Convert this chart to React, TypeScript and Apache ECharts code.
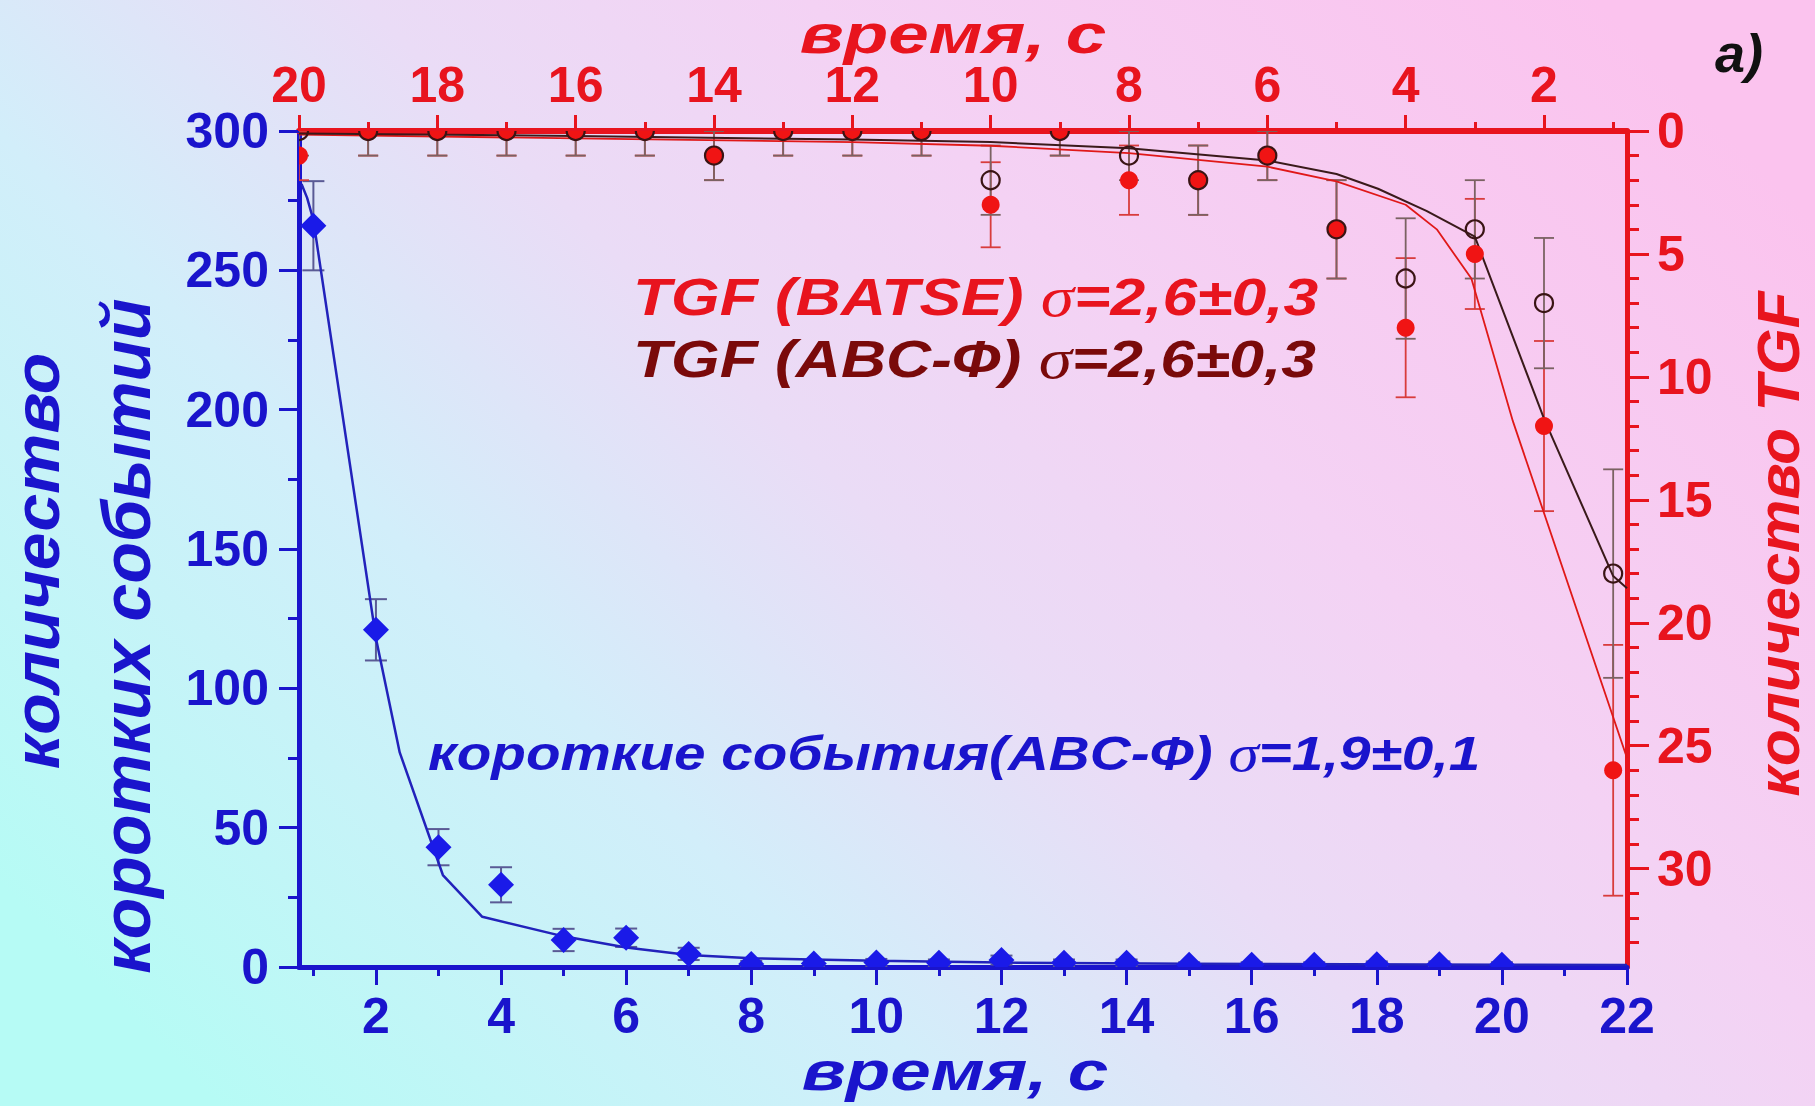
import React, { useEffect, useRef } from "react";
import * as echarts from "echarts";

// ---------- data ----------
// short events (ABC-Ф): bottom axis time, left axis count
const shortTime = [1, 2, 3, 4, 5, 6, 7, 8, 9, 10, 11, 12, 13, 14, 15, 16, 17, 18, 19, 20];
const shortCount = [266, 121, 43, 29.5, 9.7, 10.5, 4.7, 1.1, 1.3, 1.6, 1.5, 2.5, 1.5, 1.5, 0.8, 0.8, 0.8, 1, 1, 0.8];
const shortErr = [16, 11, 6.5, 6.3, 4, 3.3, 2.2, 1.1, 1.1, 1.3, 1.2, 1.6, 1.2, 1.2, 0.9, 0.9, 0.9, 1, 1, 0.9];
const shortFitTime = [0.81, 0.9, 1, 2, 2.38, 3.07, 3.7, 5, 6, 7, 8, 10, 12, 15, 20, 22];
const shortFitCount = [281, 276, 268, 118, 77, 33, 18, 11, 7, 4.3, 3.1, 2.2, 1.6, 1.2, 0.8, 0.7];

// TGF: top axis time (reversed), right axis count (reversed)
const tgfTime = [20, 19, 18, 17, 16, 15, 14, 13, 12, 11, 10, 9, 8, 7, 6, 5, 4, 3, 2, 1];
const batseCount = [1, 0, 0, 0, 0, 0, 1, 0, 0, 0, 3, 0, 2, 2, 1, 4, 8, 5, 12, 26];
const batseErr = [1, 1, 1, 1, 1, 1, 1, 1, 1, 1, 1.73, 1, 1.41, 1.41, 1, 2, 2.83, 2.24, 3.46, 5.1];
const abcCount = [0, 0, 0, 0, 0, 0, 1, 0, 0, 0, 2, 0, 1, 2, 1, 4, 6, 4, 7, 18];
const abcErr = [1, 1, 1, 1, 1, 1, 1, 1, 1, 1, 1.41, 1, 1, 1.41, 1, 2, 2.45, 2, 2.65, 4.24];
const batseFitTime = [20, 16, 12, 10, 8, 6, 5, 4, 3.55, 3.05, 2.45, 0.8];
const batseFitCount = [0.15, 0.3, 0.45, 0.6, 0.9, 1.45, 2.05, 3.0, 4.0, 6.0, 11.8, 25.5];
const abcFitTime = [20, 16, 12, 10, 8, 6, 5, 4.4, 3.7, 3.0, 2.0, 1.0, 0.8];
const abcFitCount = [0.1, 0.2, 0.35, 0.45, 0.7, 1.2, 1.75, 2.35, 3.25, 4.3, 11.7, 18.1, 18.6];

// tick values
const bottomMajor = [2, 4, 6, 8, 10, 12, 14, 16, 18, 20, 22];
const bottomMinor = [1, 3, 5, 7, 9, 11, 13, 15, 17, 19, 21];
const topMajor = [2, 4, 6, 8, 10, 12, 14, 16, 18, 20];
const topMinor = [1, 3, 5, 7, 9, 11, 13, 15, 17, 19];
const rightMajor = [0, 5, 10, 15, 20, 25, 30];
const rightMinor = [1, 2, 3, 4, 6, 7, 8, 9, 11, 12, 13, 14, 16, 17, 18, 19, 21, 22, 23, 24, 26, 27, 28, 29, 31, 32, 33];

// ---------- styles ----------
const RED = "#e8141e";
const DARKRED = "#7a0a0a";
const BLUE = "#1a14cc";
const SANS = "Liberation Sans";

const labelFont = { fontFamily: SANS, fontWeight: "bold" as const, fontSize: 50 };

function errRender(color: string, width: number, capHalf: number, axisMin: number) {
  return (params: any, api: any) => {
    const x = api.value(0);
    let lo = api.value(1);
    const hi = api.value(2);
    const loClamped = lo < axisMin;
    if (loClamped) lo = axisMin;
    const pLo = api.coord([x, lo]);
    const pHi = api.coord([x, hi]);
    const st = { stroke: color, lineWidth: width };
    const children: any[] = [
      { type: "line", shape: { x1: pLo[0], y1: pLo[1], x2: pHi[0], y2: pHi[1] }, style: st },
      { type: "line", shape: { x1: pHi[0] - capHalf, y1: pHi[1], x2: pHi[0] + capHalf, y2: pHi[1] }, style: st },
    ];
    if (!loClamped) {
      children.push({ type: "line", shape: { x1: pLo[0] - capHalf, y1: pLo[1], x2: pLo[0] + capHalf, y2: pLo[1] }, style: st });
    }
    return { type: "group", children };
  };
}

function dotRender(fill: string, stroke: string | null, r: number, lw: number) {
  return (params: any, api: any) => {
    const p = api.coord([api.value(0), api.value(1)]);
    return {
      type: "circle",
      shape: { cx: p[0], cy: p[1], r },
      style: { fill, stroke: stroke || undefined, lineWidth: lw },
    };
  };
}

function diamondRender(fill: string, hw: number, hh: number) {
  return (params: any, api: any) => {
    const p = api.coord([api.value(0), api.value(1)]);
    return {
      type: "polygon",
      shape: { points: [[p[0], p[1] - hh], [p[0] + hw, p[1]], [p[0], p[1] + hh], [p[0] - hw, p[1]]] },
      style: { fill },
    };
  };
}

function buildOption() {
  const shortErrData = shortTime.map((t, i) => [t, shortCount[i] - shortErr[i], shortCount[i] + shortErr[i]]);
  const batseErrData = tgfTime.map((t, i) => [t, batseCount[i] - batseErr[i], batseCount[i] + batseErr[i]]);
  const abcErrData = tgfTime.map((t, i) => [t, abcCount[i] - abcErr[i], abcCount[i] + abcErr[i]]);

  const richA = (fill: string) => ({ fontFamily: SANS, fontWeight: "bold", fontStyle: "italic", fontSize: 52, fill, color: fill });
  const richS = (fill: string) => ({ fontFamily: "Liberation Serif", fontStyle: "italic", fontWeight: "normal", fontSize: 56, fill, color: fill });

  const titleStyle = (text: string, fill: string, size: number, lineHeight?: number) => ({
    text, fill, fontFamily: SANS, fontWeight: "bold", fontStyle: "italic", fontSize: size,
    lineHeight: lineHeight || undefined,
    align: "center", verticalAlign: "middle", textAlign: "center", textVerticalAlign: "middle",
  });

  return {
    animation: false,
    backgroundColor: new echarts.graphic.LinearGradient(0, 0.8, 1, 0.2, [
      { offset: 0, color: "#b6fbf5" },
      { offset: 0.3, color: "#d2eefa" },
      { offset: 0.5, color: "#eadcf6" },
      { offset: 0.68, color: "#f4d2f4" },
      { offset: 1, color: "#fbc3ee" },
    ]),
    grid: { left: 299, top: 131, width: 1328, height: 836 },
    xAxis: [
      {
        type: "value", position: "bottom", min: 0.77, max: 22,
        axisLine: { show: true, onZero: false, lineStyle: { color: BLUE, width: 5 } },
        axisTick: { show: true, customValues: bottomMajor, length: 18, lineStyle: { color: BLUE, width: 3 } },
        axisLabel: { customValues: bottomMajor, color: BLUE, margin: 24, ...labelFont },
        splitLine: { show: false },
      },
      {
        type: "value", position: "top", inverse: true, min: 0.8, max: 20,
        axisLine: { show: true, onZero: false, lineStyle: { color: RED, width: 6 } },
        axisTick: { show: true, customValues: topMajor, length: 16, lineStyle: { color: RED, width: 3 } },
        axisLabel: { customValues: topMajor, color: RED, margin: 21, showMinLabel: true, showMaxLabel: true, ...labelFont },
        splitLine: { show: false },
      },
      {
        type: "value", position: "bottom", min: 0.77, max: 22,
        axisLine: { show: false, onZero: false },
        axisTick: { show: true, customValues: bottomMinor, length: 9, lineStyle: { color: BLUE, width: 3 } },
        axisLabel: { show: false },
        splitLine: { show: false },
      },
      {
        type: "value", position: "top", inverse: true, min: 0.8, max: 20,
        axisLine: { show: false, onZero: false },
        axisTick: { show: true, customValues: topMinor, length: 9, lineStyle: { color: RED, width: 3 } },
        axisLabel: { show: false },
        splitLine: { show: false },
      },
    ],
    yAxis: [
      {
        type: "value", position: "left", min: 0, max: 300, interval: 50,
        axisLine: { show: true, onZero: false, lineStyle: { color: BLUE, width: 5 } },
        axisTick: { show: true, length: 20, lineStyle: { color: BLUE, width: 3 } },
        minorTick: { show: true, splitNumber: 2, length: 11, lineStyle: { color: BLUE, width: 3 } },
        axisLabel: { color: BLUE, margin: 30, ...labelFont },
        splitLine: { show: false },
        minorSplitLine: { show: false },
      },
      {
        type: "value", position: "right", inverse: true, min: 0, max: 34,
        axisLine: { show: true, onZero: false, lineStyle: { color: RED, width: 5 } },
        axisTick: { show: true, customValues: rightMajor, length: 22, lineStyle: { color: RED, width: 3 } },
        axisLabel: { customValues: rightMajor, color: RED, margin: 30, ...labelFont },
        splitLine: { show: false },
      },
      {
        type: "value", position: "right", inverse: true, min: 0, max: 34,
        axisLine: { show: false, onZero: false },
        axisTick: { show: true, customValues: rightMinor, length: 12, lineStyle: { color: RED, width: 3 } },
        axisLabel: { show: false },
        splitLine: { show: false },
      },
    ],
    series: [
      {
        type: "custom", name: "short-err", coordinateSystem: "cartesian2d", xAxisIndex: 0, yAxisIndex: 0,
        clip: true, silent: true, data: shortErrData, renderItem: errRender("#5a5a95", 2, 11, 0), z: 3,
      },
      {
        type: "line", name: "short-fit", xAxisIndex: 0, yAxisIndex: 0, showSymbol: false, symbol: "none",
        clip: true, silent: true, data: shortFitTime.map((t, i) => [t, shortFitCount[i]]),
        lineStyle: { color: "#2222bb", width: 2.5 }, z: 4,
      },
      {
        type: "custom", name: "short", coordinateSystem: "cartesian2d", xAxisIndex: 0, yAxisIndex: 0,
        clip: true, silent: true, data: shortTime.map((t, i) => [t, shortCount[i]]), renderItem: diamondRender("#1a1ae8", 13, 13), z: 5,
      },
      {
        type: "line", name: "batse-fit", xAxisIndex: 1, yAxisIndex: 1, showSymbol: false, symbol: "none",
        clip: true, silent: true, data: batseFitTime.map((t, i) => [t, batseFitCount[i]]),
        lineStyle: { color: "#e01818", width: 1.8 }, z: 4,
      },
      {
        type: "line", name: "abc-fit", xAxisIndex: 1, yAxisIndex: 1, showSymbol: false, symbol: "none",
        clip: true, silent: true, data: abcFitTime.map((t, i) => [t, abcFitCount[i]]),
        lineStyle: { color: "#3a1a1a", width: 2 }, z: 4,
      },
      {
        type: "custom", name: "batse-err", coordinateSystem: "cartesian2d", xAxisIndex: 1, yAxisIndex: 1,
        clip: true, silent: true, data: batseErrData, renderItem: errRender("#d83c3c", 1.8, 10, 0), z: 3,
      },
      {
        type: "custom", name: "abc-err", coordinateSystem: "cartesian2d", xAxisIndex: 1, yAxisIndex: 1,
        clip: true, silent: true, data: abcErrData, renderItem: errRender("#7a6262", 1.8, 10, 0), z: 3,
      },
      {
        type: "custom", name: "batse", coordinateSystem: "cartesian2d", xAxisIndex: 1, yAxisIndex: 1,
        clip: true, silent: true, data: tgfTime.map((t, i) => [t, batseCount[i]]), renderItem: dotRender("#f01414", null, 9, 0), z: 5,
      },
      {
        type: "custom", name: "abc", coordinateSystem: "cartesian2d", xAxisIndex: 1, yAxisIndex: 1,
        clip: true, silent: true, data: tgfTime.map((t, i) => [t, abcCount[i]]), renderItem: dotRender("none", "#3a1414", 9, 2.2), z: 6,
      },
    ],
    graphic: [
      { type: "text", x: 953, y: 34, scaleX: 1.3, z: 10, style: titleStyle("время, с", RED, 56) },
      { type: "text", x: 955, y: 1071, scaleX: 1.3, z: 10, style: titleStyle("время, с", BLUE, 56) },
      { type: "text", x: 37, y: 561, rotation: Math.PI / 2, scaleX: 1.06, z: 10, style: titleStyle("количество", BLUE, 64, 50) },
      { type: "text", x: 126, y: 636, rotation: Math.PI / 2, z: 10, style: titleStyle("коротких событий", BLUE, 68, 50) },
      { type: "text", x: 1778, y: 544, rotation: Math.PI / 2, z: 10, style: titleStyle("количество TGF", RED, 60, 50) },
      { type: "text", x: 1739, y: 53, z: 10, style: titleStyle("a)", "#111111", 54) },
      {
        type: "text", x: 633, y: 297, scaleX: 1.2, z: 10,
        style: {
          text: "{a|TGF (BATSE) }{s|σ}{a|=2,6±0,3}",
          rich: { a: richA(RED), s: richS(RED) },
          fill: RED, align: "left", verticalAlign: "middle", textAlign: "left", textVerticalAlign: "middle",
        },
      },
      {
        type: "text", x: 633, y: 359, scaleX: 1.2, z: 10,
        style: {
          text: "{a|TGF (ABC-Ф) }{s|σ}{a|=2,6±0,3}",
          rich: { a: richA(DARKRED), s: richS(DARKRED) },
          fill: DARKRED, align: "left", verticalAlign: "middle", textAlign: "left", textVerticalAlign: "middle",
        },
      },
      {
        type: "text", x: 428, y: 753, scaleX: 1.18, z: 10,
        style: {
          text: "{a|короткие события(ABC-Ф) }{s|σ}{a|=1,9±0,1}",
          rich: {
            a: { fontFamily: SANS, fontWeight: "bold", fontStyle: "italic", fontSize: 48, fill: BLUE, color: BLUE },
            s: { fontFamily: "Liberation Serif", fontStyle: "italic", fontWeight: "normal", fontSize: 52, fill: BLUE, color: BLUE },
          },
          fill: BLUE, align: "left", verticalAlign: "middle", textAlign: "left", textVerticalAlign: "middle",
        },
      },
    ],
  };
}

export default function App() {
  const ref = useRef<HTMLDivElement>(null);
  useEffect(() => {
    document.body.style.margin = "0";
    const chart = echarts.init(ref.current as HTMLDivElement, null, { renderer: "svg" });
    chart.setOption(buildOption() as any);
    return () => chart.dispose();
  }, []);
  return <div ref={ref} style={{ width: 1815, height: 1106 }} />;
}
